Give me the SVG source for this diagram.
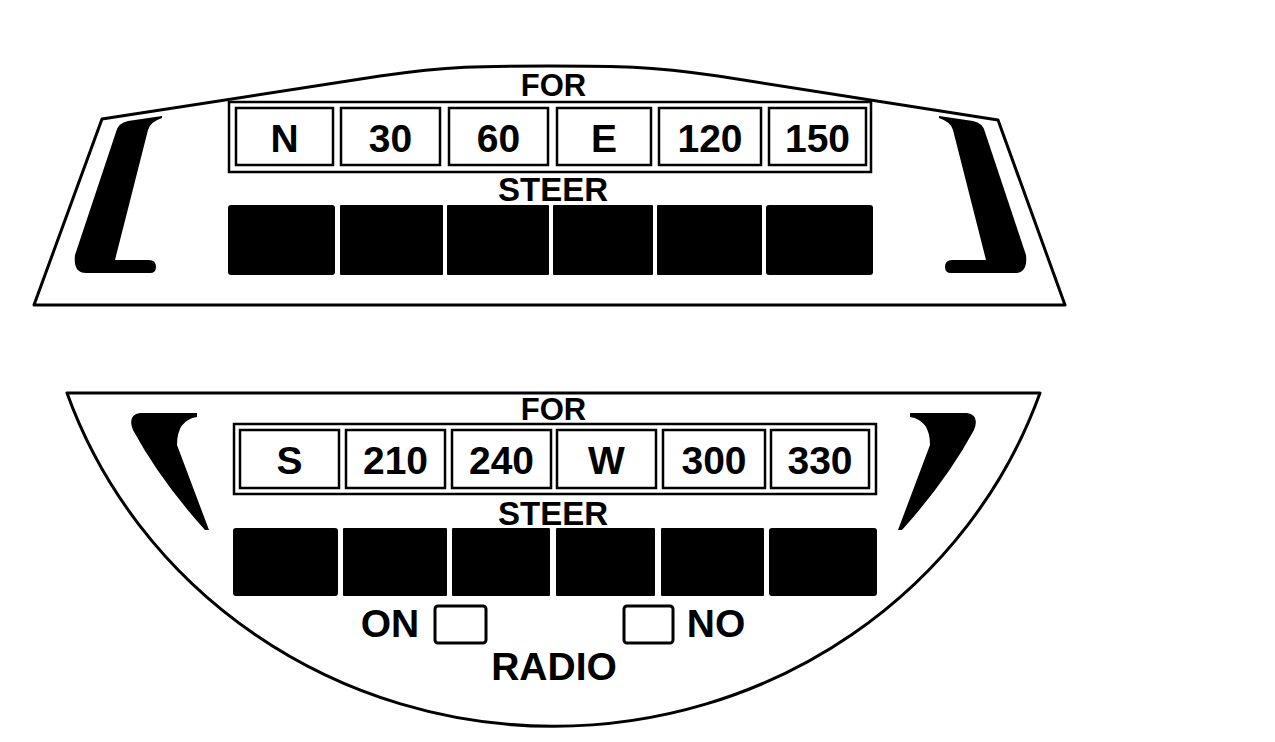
<svg xmlns="http://www.w3.org/2000/svg" width="1275" height="742" viewBox="0 0 1275 742">
<style>
.card{fill:#fff;stroke:#000;stroke-width:3;stroke-linejoin:round}
.frame{fill:none;stroke:#000;stroke-width:2.5}
.cell{fill:#fff;stroke:#000;stroke-width:2.5}
.blk{fill:#000}
.t{font-family:"Liberation Sans",Arial,Helvetica,sans-serif;font-weight:bold;text-anchor:middle;fill:#000}
.big{font-size:39px}
.hd{font-size:31px}
.st{font-size:33px}
.sw{fill:#fff;stroke:#000;stroke-width:3}
</style>
<rect width="1275" height="742" fill="#fff"/>

<g id="top-card">
  <path class="card" d="M34,305 L102,119 L380,76 C450,66 480,66 549,66 C618,66 648,66 718,76 L998,120 L1065,305 Z"/>
  <path id="top-left-bracket" class="blk" d="M162,116 L128,121 Q118,123 116,132 L75,255 Q73,273 86,273 L150,273 Q156,273 156,267 Q156,260 149,260 L115,260 L148,130 Q150,122 162,118 Z"/>
  <path id="top-right-bracket" class="blk" transform="translate(1101,0) scale(-1,1)" d="M162,116 L128,121 Q118,123 116,132 L75,255 Q73,273 86,273 L150,273 Q156,273 156,267 Q156,260 149,260 L115,260 L148,130 Q150,122 162,118 Z"/>
  <text class="t hd" x="553.5" y="96">FOR</text>
  <g id="top-for">
    <rect class="frame" x="229" y="102" width="642" height="70"/>
    <rect class="cell" x="236" y="108" width="97" height="57"/>
    <rect class="cell" x="341" y="108" width="99" height="57"/>
    <rect class="cell" x="449" y="108" width="99" height="57"/>
    <rect class="cell" x="557" y="108" width="94" height="57"/>
    <rect class="cell" x="659" y="108" width="102" height="57"/>
    <rect class="cell" x="769" y="108" width="97" height="57"/>
    <text class="t big" x="284.5" y="152">N</text>
    <text class="t big" x="390.5" y="152">30</text>
    <text class="t big" x="498.5" y="152">60</text>
    <text class="t big" x="604" y="152">E</text>
    <text class="t big" x="710" y="152">120</text>
    <text class="t big" x="817.5" y="152">150</text>
  </g>
  <text class="t st" x="553" y="201">STEER</text>
  <g id="top-steer">
    <rect class="blk" x="228" y="205" width="107" height="70" rx="3"/>
    <rect class="blk" x="340" y="205" width="103" height="70" rx="1"/>
    <rect class="blk" x="447" y="205" width="102" height="70" rx="1"/>
    <rect class="blk" x="553" y="205" width="100" height="70" rx="1"/>
    <rect class="blk" x="657" y="205" width="105" height="70" rx="1"/>
    <rect class="blk" x="766" y="205" width="107" height="70" rx="3"/>
  </g>
</g>

<g id="bottom-card">
  <path class="card" d="M67,393 L1040,393 A515 496 0 0 1 67,393 Z"/>
  <path id="bottom-left-bracket" class="blk" d="M140,413 L197,413 L197,417 Q177,420 177,445 L209,530 L205,530 Q160,480 133,430 Q127,415 140,413 Z"/>
  <path id="bottom-right-bracket" class="blk" transform="translate(1107,0) scale(-1,1)" d="M140,413 L197,413 L197,417 Q177,420 177,445 L209,530 L205,530 Q160,480 133,430 Q127,415 140,413 Z"/>
  <text class="t hd" x="553.5" y="420">FOR</text>
  <g id="bottom-for">
    <rect class="frame" x="234" y="424" width="642" height="70"/>
    <rect class="cell" x="240" y="430" width="99" height="58"/>
    <rect class="cell" x="346" y="430" width="99" height="58"/>
    <rect class="cell" x="452" y="430" width="99" height="58"/>
    <rect class="cell" x="557" y="430" width="99" height="58"/>
    <rect class="cell" x="663" y="430" width="102" height="58"/>
    <rect class="cell" x="771" y="430" width="98" height="58"/>
    <text class="t big" x="289.5" y="474">S</text>
    <text class="t big" x="395.5" y="474">210</text>
    <text class="t big" x="501.5" y="474">240</text>
    <text class="t big" x="606.5" y="474">W</text>
    <text class="t big" x="714" y="474">300</text>
    <text class="t big" x="820" y="474">330</text>
  </g>
  <text class="t st" x="553" y="525">STEER</text>
  <g id="bottom-steer">
    <rect class="blk" x="233" y="528" width="105" height="68" rx="3"/>
    <rect class="blk" x="343" y="528" width="104" height="68" rx="1"/>
    <rect class="blk" x="452" y="528" width="98" height="68" rx="1"/>
    <rect class="blk" x="556" y="528" width="99" height="68" rx="1"/>
    <rect class="blk" x="661" y="528" width="103" height="68" rx="1"/>
    <rect class="blk" x="769" y="528" width="108" height="68" rx="3"/>
  </g>
  <g id="radio">
    <text class="t big" x="390" y="637">ON</text>
    <rect class="sw" x="435" y="606" width="51" height="37" rx="3"/>
    <rect class="sw" x="624" y="606" width="49" height="37" rx="3"/>
    <text class="t big" x="716" y="637">NO</text>
    <text class="t big" x="554" y="680">RADIO</text>
  </g>
</g>
</svg>
